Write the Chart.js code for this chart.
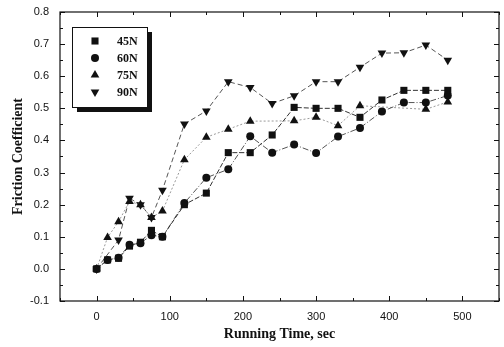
<!DOCTYPE html>
<html>
<head>
<meta charset="utf-8">
<script src="https://cdn.jsdelivr.net/npm/chart.js@4"></script>
<style>
  html, body { margin: 0; padding: 0; background: #fff; }
  canvas { display: block; }
</style>
</head>
<body>
<canvas id="cof-chart" width="504" height="347"></canvas>
<script>
// Running time (sec) for every measurement
const times = [0, 15, 30, 45, 60, 75, 90, 120, 150, 180, 210, 240, 270, 300, 330, 360, 390, 420, 450, 480];

// Friction coefficient per load (null = no marker at that time)
const cof45 = [0, 0.028, 0.033, 0.071, 0.083, 0.12, 0.10, 0.20, 0.236, 0.362, 0.362, 0.417, 0.503, 0.50, 0.50, 0.472, 0.526, 0.556, 0.556, 0.556];
const cof60 = [0, 0.028, 0.035, 0.075, 0.08, 0.105, 0.10, 0.205, 0.284, 0.31, 0.413, 0.362, 0.387, 0.361, 0.412, 0.439, 0.49, 0.518, 0.518, 0.54];
const cof75 = [0, 0.098, 0.147, 0.21, 0.20, 0.16, 0.18, 0.34, 0.41, 0.435, 0.46, null, 0.461, 0.472, 0.446, 0.508, null, null, 0.497, 0.52];
const cof90 = [0, null, 0.09, 0.22, 0.20, 0.16, 0.245, 0.451, 0.492, 0.583, 0.565, 0.515, 0.539, 0.583, 0.583, 0.628, 0.672, 0.673, 0.697, 0.65];

const seriesLabels = ['45N', '60N', '75N', '90N'];
const xTickValues = [0, 100, 200, 300, 400, 500];
const yTickValues = [-0.1, 0.0, 0.1, 0.2, 0.3, 0.4, 0.5, 0.6, 0.7, 0.8];

const toPoints = (vals) => vals.map((v, i) => ({ x: times[i], y: v }));

// marker + line look for each series
const looks = [
    { pointStyle: 'rect', radius: 5, rotation: 0, dash: [5, 2], line: '#333' },
    { pointStyle: 'circle', radius: 4, rotation: 0, dash: [6, 2, 1, 2], line: '#555' },
    { pointStyle: 'triangle', radius: 5, rotation: 0, dash: [2, 2], line: '#999' },
    { pointStyle: 'triangle', radius: 5, rotation: 180, dash: [5, 3], line: '#555' }
];

const allSeries = [cof45, cof60, cof75, cof90];

const datasets = allSeries.map((vals, i) => ({
    label: seriesLabels[i],
    data: toPoints(vals),
    spanGaps: true,
    borderColor: looks[i].line,
    borderWidth: 1,
    borderDash: looks[i].dash,
    backgroundColor: '#111',
    pointBackgroundColor: '#111',
    pointBorderColor: '#111',
    pointBorderWidth: 0,
    pointStyle: looks[i].pointStyle,
    pointRotation: looks[i].rotation,
    pointRadius: looks[i].radius,
    fill: false,
    tension: 0
}));

// draws the box frame and inward ticks on all four sides
const frameTicks = {
    id: 'frameTicks',
    afterDraw(chart) {
        const { ctx, chartArea: a, scales } = chart;
        const xs = scales.x, ys = scales.y;
        ctx.save();
        ctx.strokeStyle = '#111';
        ctx.lineWidth = 1.2;
        ctx.strokeRect(a.left, a.top, a.right - a.left, a.bottom - a.top);
        ctx.lineWidth = 1;
        ctx.beginPath();
        for (let v = -50; v <= 550; v += 50) {
            const px = Math.round(xs.getPixelForValue(v)) + 0.5;
            const len = (v % 100 === 0) ? 5 : 3;
            ctx.moveTo(px, a.bottom); ctx.lineTo(px, a.bottom - len);
            ctx.moveTo(px, a.top); ctx.lineTo(px, a.top + len);
        }
        for (let k = -2; k <= 16; k++) {
            const v = k * 0.05;
            const py = Math.round(ys.getPixelForValue(v)) + 0.5;
            const len = (k % 2 === 0) ? 5 : 3;
            ctx.moveTo(a.left, py); ctx.lineTo(a.left + len, py);
            ctx.moveTo(a.right, py); ctx.lineTo(a.right - len, py);
        }
        ctx.stroke();
        ctx.restore();
    }
};

// boxed legend with a drop shadow in the upper left corner
const boxLegend = {
    id: 'boxLegend',
    afterDraw(chart) {
        const { ctx } = chart;
        const bx = 72, by = 27, bw = 75, bh = 80;
        ctx.save();
        ctx.fillStyle = '#111';
        ctx.fillRect(bx + 5, by + 5, bw, bh);
        ctx.fillStyle = '#fff';
        ctx.fillRect(bx, by, bw, bh);
        ctx.strokeStyle = '#111';
        ctx.lineWidth = 1;
        ctx.strokeRect(bx + 0.5, by + 0.5, bw, bh);
        ctx.font = 'bold 12px "Liberation Serif", "Times New Roman", serif';
        ctx.textBaseline = 'middle';
        seriesLabels.forEach((lab, i) => {
            const y = by + 14 + i * 17;
            ctx.fillStyle = '#111';
            ctx.strokeStyle = '#111';
            Chart.helpers.drawPoint(ctx, {
                pointStyle: looks[i].pointStyle,
                rotation: looks[i].rotation,
                radius: looks[i].radius,
                borderWidth: 0
            }, bx + 23, y);
            ctx.fillStyle = '#111';
            ctx.fillText(lab, bx + 45, y + 1);
        });
        ctx.restore();
    }
};

new Chart(document.getElementById('cof-chart').getContext('2d'), {
    type: 'line',
    data: { datasets: datasets },
    options: {
        responsive: false,
        animation: false,
        devicePixelRatio: 1,
        layout: { padding: { top: 12, right: 1, left: 0, bottom: 0 } },
        plugins: {
            legend: { display: false },
            tooltip: { enabled: false }
        },
        scales: {
            x: {
                type: 'linear',
                min: -50,
                max: 550,
                afterBuildTicks: (s) => { s.ticks = xTickValues.map(v => ({ value: v })); },
                afterFit: (s) => { s.height = 46; },
                grid: { display: false },
                border: { display: false },
                ticks: {
                    padding: 1,
                    color: '#111',
                    font: { family: '"Liberation Sans", Arial, sans-serif', size: 11 }
                },
                title: {
                    display: true,
                    text: 'Running Time, sec',
                    color: '#111',
                    padding: { top: 2, bottom: 4 },
                    font: { family: '"Liberation Serif", "Times New Roman", serif', size: 14, weight: 'bold' }
                }
            },
            y: {
                min: -0.1,
                max: 0.8,
                afterBuildTicks: (s) => { s.ticks = yTickValues.map(v => ({ value: v })); },
                afterFit: (s) => { s.width = 60; },
                grid: { display: false },
                border: { display: false },
                ticks: {
                    padding: 3,
                    color: '#111',
                    font: { family: '"Liberation Sans", Arial, sans-serif', size: 11 },
                    callback: (v) => Number(v).toFixed(1)
                },
                title: {
                    display: true,
                    text: 'Friction Coefficient',
                    color: '#111',
                    padding: { top: 10, bottom: 4 },
                    font: { family: '"Liberation Serif", "Times New Roman", serif', size: 14, weight: 'bold' }
                }
            }
        }
    },
    plugins: [frameTicks, boxLegend]
});
</script>
</body>
</html>
